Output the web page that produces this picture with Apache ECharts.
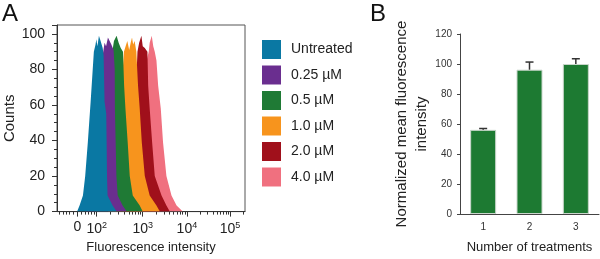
<!DOCTYPE html>
<html>
<head>
<meta charset="utf-8">
<script src="https://cdn.jsdelivr.net/npm/echarts@6/dist/echarts.min.js"></script>
<style>
  html, body { margin: 0; padding: 0; background: #fff; }
  #chart { width: 600px; height: 259px; }
</style>
</head>
<body>
<div id="chart"></div>
<script>
// Panel A: flow histograms, x = display channel (0-1000, biexponential scale), y = counts
const legendNames = ['Untreated', '0.25 µM', '0.5 µM', '1.0 µM', '2.0 µM', '4.0 µM'];
const colors = ['#0a78a3', '#6a2e8f', '#1f7a35', '#f7941d', '#a0101b', '#f0707f'];

const untreated = [[107,0],[120,3.5],[138,9],[150,20],[164,39],[179,62],[196,90],[205,94],[209,97],[215,93],[223,99],[232,96],[243,92],[248,88],[253,62],[262,55],[264,39],[266,20],[269,9],[296,3.5],[317,0]];
const conc025 = [[155,0],[168,3.5],[186,9],[198,20],[212,39],[227,62],[243,88],[253,95],[261,93],[271,98],[280,96],[289,94],[301,91],[307,80],[308,58],[312,39],[316,20],[323,9],[349,3.5],[371,0]];
const conc05 = [[201,0],[214,3.5],[232,9],[245,20],[259,39],[273,62],[291,88],[303,96],[317,99],[328,95],[339,92],[351,90],[357,71],[364,58],[376,39],[387,20],[403,9],[440,3.5],[456,0]];
const conc10 = [[272,0],[285,3.5],[303,9],[316,20],[330,39],[342,68],[356,90],[365,93],[374,96],[384,91],[392,95],[399,98],[405,94],[413,96],[422,90],[431,71],[440,58],[451,39],[467,20],[493,9],[529,3.5],[547,0]];
const conc20 = [[331,0],[344,3.5],[362,9],[374,20],[388,39],[403,62],[422,75],[428,90],[437,95],[449,99],[456,93],[467,92],[481,90],[485,71],[493,58],[506,39],[520,20],[556,9],[582,3.5],[600,0]];
const conc40 = [[387,0],[400,3.5],[419,9],[432,20],[445,39],[460,62],[477,85],[488,90],[493,95],[504,99],[512,93],[520,90],[529,85],[538,71],[552,58],[564,39],[582,20],[609,9],[636,3.5],[669,0]];
const histData = [untreated, conc025, conc05, conc10, conc20, conc40];

// x axis ticks of panel A (channel positions)
const xTickValues = [108, 211, 456, 691, 920];
const xTickLabels = ['0', '10{s|2}', '10{s|3}', '10{s|4}', '10{s|5}'];
const xMinorTicks = [14, 31, 49, 67, 84, 130, 148, 166, 184, 198,
  285, 328, 358, 382, 402, 418, 432, 445,
  527, 568, 597, 620, 639, 655, 668, 680,
  760, 800, 829, 851, 869, 884, 898, 909, 989];

// Panel B: bar chart
const treatments = ['1', '2', '3'];
const meanIntensity = [56.1, 96.2, 100];
const errUpper = [57, 101.3, 103.5];

const font = "'Liberation Sans', Arial, Helvetica, sans-serif";
const axisColor = '#333';

const chart = echarts.init(document.getElementById('chart'));

// draw untreated on top: add series in reverse order
const histSeries = [];
for (let i = histData.length - 1; i >= 0; i--) {
  histSeries.push({
    name: legendNames[i],
    type: 'line',
    xAxisIndex: 0,
    yAxisIndex: 0,
    data: histData[i],
    showSymbol: false,
    symbol: 'none',
    silent: true,
    lineStyle: { width: 0 },
    itemStyle: { color: colors[i] },
    areaStyle: { color: colors[i], opacity: 1 }
  });
}

const option = {
  animation: false,
  textStyle: { fontFamily: font },
  title: [
    { text: 'A', left: -3, top: -3, textStyle: { fontSize: 24, fontWeight: 'normal', color: '#111', fontFamily: font } },
    { text: 'B', left: 365, top: -3, textStyle: { fontSize: 24, fontWeight: 'normal', color: '#111', fontFamily: font } }
  ],
  legend: {
    data: legendNames,
    orient: 'vertical',
    left: 257,
    top: 35,
    itemWidth: 19,
    itemHeight: 19,
    itemGap: 6.5,
    icon: 'rect',
    selectedMode: false,
    textStyle: { fontSize: 14, color: '#222', padding: [0, 0, 0, 5], fontFamily: font }
  },
  grid: [
    { left: 57, top: 25, width: 188, height: 188.5, show: true, borderColor: '#555', borderWidth: 1, backgroundColor: 'transparent' },
    { left: 460, top: 34, width: 139, height: 180 }
  ],
  xAxis: [
    {
      type: 'value', gridIndex: 0, min: 0, max: 1000,
      name: 'Fluorescence intensity', nameLocation: 'middle', nameGap: 26,
      nameTextStyle: { fontSize: 13, color: '#222' },
      splitLine: { show: false },
      axisLine: { lineStyle: { color: axisColor } },
      axisTick: { customValues: xTickValues, length: 5, lineStyle: { color: axisColor } },
      axisLabel: {
        customValues: xTickValues,
        margin: 9,
        fontSize: 14,
        color: '#222',
        formatter: v => xTickLabels[xTickValues.indexOf(v)],
        rich: { s: { fontSize: 9, verticalAlign: 'bottom', padding: [0, 0, 8, 0], color: '#222' } }
      }
    },
    {
      type: 'value', gridIndex: 0, min: 0, max: 1000, position: 'bottom',
      splitLine: { show: false },
      axisLine: { show: false },
      axisLabel: { show: false },
      axisTick: { customValues: xMinorTicks, length: 3, lineStyle: { color: axisColor } }
    },
    {
      type: 'category', gridIndex: 1, data: treatments,
      name: 'Number of treatments', nameLocation: 'middle', nameGap: 27,
      nameTextStyle: { fontSize: 13, color: '#222' },
      axisLine: { lineStyle: { color: '#444' } },
      axisTick: { length: 3, lineStyle: { color: '#444' } },
      axisLabel: { fontSize: 10, color: '#333', margin: 8 }
    }
  ],
  yAxis: [
    {
      type: 'value', gridIndex: 0, min: 0, max: 105, interval: 20,
      name: 'Counts', nameLocation: 'middle', nameGap: 40,
      nameTextStyle: { fontSize: 15, color: '#222' },
      splitLine: { show: false },
      axisLine: { show: true, lineStyle: { color: axisColor } },
      axisTick: { show: true, length: 5, lineStyle: { color: axisColor } },
      minorTick: { show: true, splitNumber: 4, length: 3, lineStyle: { color: axisColor } },
      axisLabel: { fontSize: 14, color: '#222', margin: 12, showMaxLabel: false }
    },
    {
      type: 'value', gridIndex: 1, min: 0, max: 120, interval: 20,
      name: 'Normalized mean fluorescence\nintensity', nameLocation: 'middle', nameGap: 26,
      nameTextStyle: { fontSize: 15, color: '#222', lineHeight: 20, align: 'center' },
      splitLine: { show: false },
      axisLine: { show: true, lineStyle: { color: '#444' } },
      axisTick: { show: true, length: 3, lineStyle: { color: '#444' } },
      axisLabel: { fontSize: 10, color: '#333', margin: 8 }
    }
  ],
  series: histSeries.concat([
    {
      name: 'mean',
      type: 'bar',
      xAxisIndex: 2,
      yAxisIndex: 1,
      data: meanIntensity,
      barWidth: 26,
      silent: true,
      itemStyle: { color: '#1d7a32', borderColor: '#c9d6cb', borderWidth: 1 }
    },
    {
      name: 'error',
      type: 'custom',
      xAxisIndex: 2,
      yAxisIndex: 1,
      silent: true,
      z: 5,
      data: treatments.map((t, i) => [i, meanIntensity[i], errUpper[i]]),
      renderItem: (params, api) => {
        const base = api.coord([api.value(0), api.value(1)]);
        const top = api.coord([api.value(0), api.value(2)]);
        const style = { stroke: '#333', lineWidth: 1.5 };
        return {
          type: 'group',
          children: [
            { type: 'line', shape: { x1: base[0], y1: base[1], x2: top[0], y2: top[1] }, style },
            { type: 'line', shape: { x1: top[0] - 4, y1: top[1], x2: top[0] + 4, y2: top[1] }, style }
          ]
        };
      }
    }
  ])
};

chart.setOption(option);
window.addEventListener('resize', () => chart.resize());
</script>
</body>
</html>
